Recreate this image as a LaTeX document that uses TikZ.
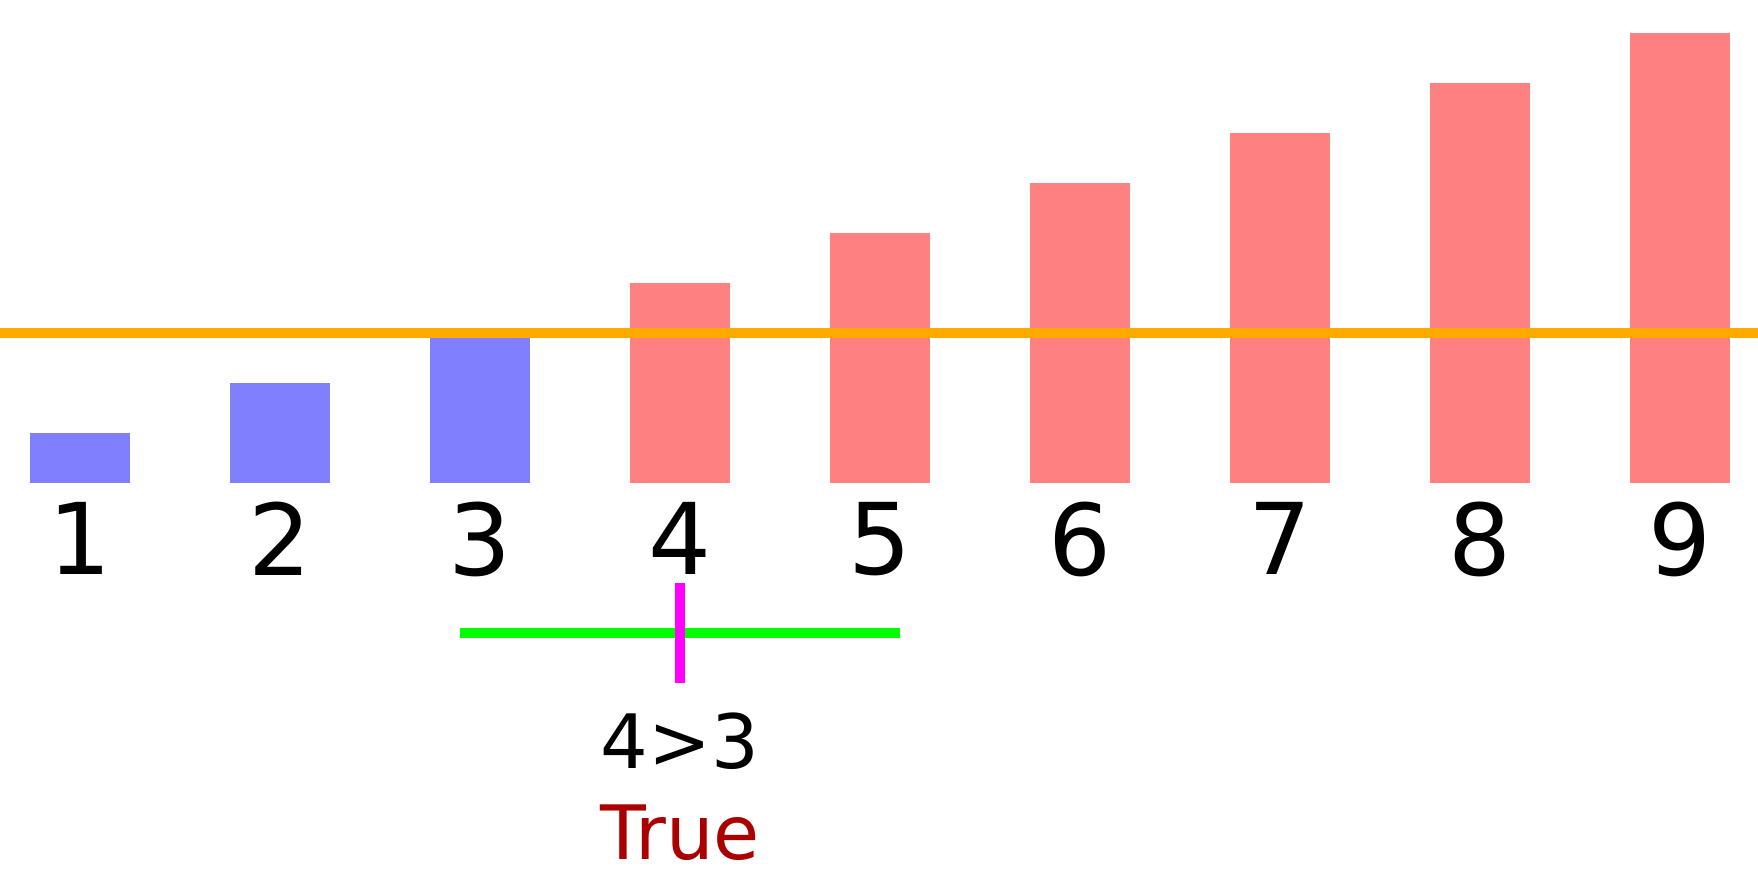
\documentclass[tikz,border=0pt]{standalone}
\usepackage{fontspec}
\setmainfont{DejaVu Sans}
\usetikzlibrary{positioning}
\definecolor{lowbar}{HTML}{8080FF}
\definecolor{highbar}{HTML}{FF8080}
\definecolor{pivotline}{HTML}{FFAA00}
\definecolor{rangeline}{HTML}{00FF00}
\definecolor{midline}{HTML}{FF00FF}
\definecolor{truetext}{HTML}{AA0000}

\begin{document}
\begin{tikzpicture}[x=1pt, y=-1pt,
  bar/.style={rectangle, inner sep=0pt, outer sep=0pt, minimum width=100pt, anchor=south},
  digit/.style={font=\fontsize{99}{118}\selectfont, inner sep=0pt},
  compare/.style={font=\fontsize{75}{90}\selectfont, inner sep=0pt}]
  \useasboundingbox (0,0) rectangle (1758,873);
  % bars with their values
  \foreach \i in {1,...,9} {
    \ifnum\i<4 \def\barcol{lowbar}\else\def\barcol{highbar}\fi
    \node[bar, fill=\barcol, minimum height={\i*50pt}] (bar\i) at ({80+200*(\i-1)},483) {};
    \node[digit, below=19pt of bar\i] (val\i) {\i};
  }
  % pivot
  \coordinate (pivotL) at (0,333);
  \coordinate (pivotR) at (1758,333);
  \draw[pivotline, line width=10pt] (pivotL) -- (pivotR);
  % search range and middle
  \coordinate (lo) at (460,633);
  \coordinate (hi) at (900,633);
  \coordinate (midtop) at (680,583);
  \coordinate (midbot) at (680,683);
  \draw[rangeline, line width=10pt] (lo) -- (hi);
  \draw[midline, line width=10pt] (midtop) -- (midbot);
  \node[compare, below=30pt of midbot] (cmp) {4>3};
  \node[compare, text=truetext, below=34pt of cmp] (result) {True};
\end{tikzpicture}
\end{document}
